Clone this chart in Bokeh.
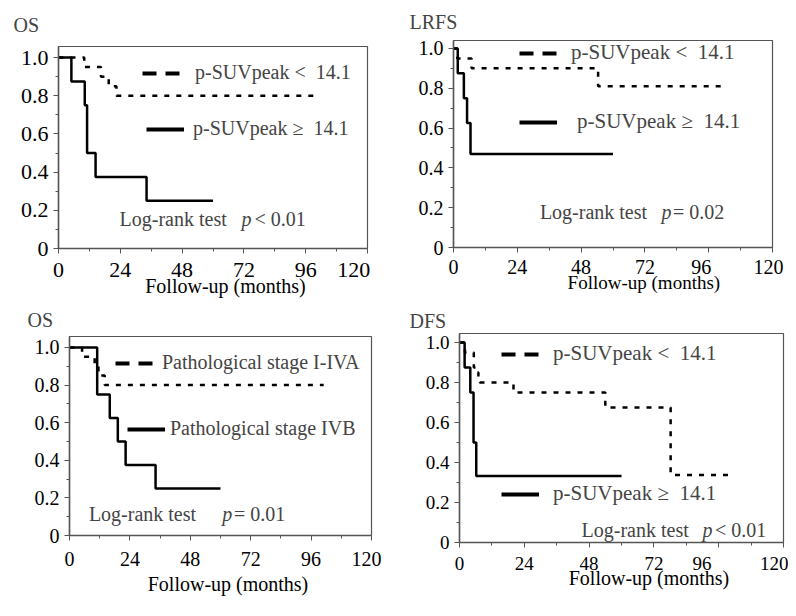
from bokeh.plotting import figure
from bokeh.models import (Range1d, FixedTicker, CustomJSTickFormatter, Label,
                          Legend, LegendItem)
from bokeh.layouts import column, row
from bokeh.embed import file_html
from bokeh.resources import INLINE

FONT = "Liberation Serif"
NB = "\u00a0"
NAN = float("nan")

# ---------------- data ----------------
x_ticks = [0, 24, 48, 72, 96, 120]
x_minor = [12, 36, 60, 84, 108]
y_ticks = [0, 0.2, 0.4, 0.6, 0.8, 1.0]

# Panel A: OS by p-SUVpeak
os_low_t = [0, 10, 16.5, 19.5, 22.5, 101]
os_low_s = [1.0, 0.95, 0.90, 0.85, 0.80, 0.80]
os_high_t = [0, 5, 10.2, 11.1, 14.4, 34.2, 60]
os_high_s = [1.0, 0.875, 0.75, 0.5, 0.375, 0.25, 0.25]

# Panel B: LRFS by p-SUVpeak
lrfs_low_t = [0, 1.4, 6.8, 54.4, 101]
lrfs_low_s = [1.0, 0.95, 0.90, 0.81, 0.81]
lrfs_high_t = [0, 1.6, 3.9, 5.1, 6.4, 60]
lrfs_high_s = [1.0, 0.875, 0.75, 0.625, 0.47, 0.47]

# Panel C: OS by pathological stage
stage_a_t = [0, 5, 10, 11.5, 14, 101]
stage_a_s = [1.0, 0.95, 0.90, 0.85, 0.80, 0.80]
stage_b_t = [0, 11, 16, 19.2, 22.3, 34.2, 60]
stage_b_s = [1.0, 0.75, 0.625, 0.5, 0.375, 0.25, 0.25]

# Panel D: DFS by p-SUVpeak
dfs_low_t = [0, 2, 5.3, 6.5, 7, 7.5, 20, 54, 78.2, 101]
dfs_low_s = [1.0, 0.95, 0.875, 0.85, 0.825, 0.80, 0.75, 0.675, 0.3375, 0.3375]
dfs_high_t = [0, 1.9, 4.0, 5.2, 6.2, 60]
dfs_high_s = [1.0, 0.875, 0.75, 0.5, 0.333, 0.333]

LOW = "p-SUVpeak <" + NB + " 14.1"
HIGH = "p-SUVpeak \u2265" + NB + " 14.1"


def panel(cfg):
    p = figure(width=cfg["w"], height=cfg["h"], output_backend="svg",
               toolbar_location=None, title=cfg["title"],
               x_range=Range1d(0, 120), y_range=Range1d(0, cfg["ytop"]),
               min_border_left=cfg["mb"][0], min_border_right=cfg["mb"][1],
               min_border_top=cfg["mb"][2], min_border_bottom=cfg["mb"][3])
    p.frame_align = False
    p.grid.visible = False
    p.outline_line_color = "#555555"
    p.outline_line_width = 1.2
    p.background_fill_color = "white"
    p.border_fill_color = "white"

    p.title.align = "left"
    p.title.vertical_align = "bottom"
    p.title.offset = cfg["toff"]
    p.title.standoff = cfg["tstand"]
    p.title.text_font = FONT
    p.title.text_font_size = "20px"
    p.title.text_font_style = "normal"

    tf = cfg["tickfs"]
    for ax in (p.xaxis[0], p.yaxis[0]):
        ax.axis_line_color = "#555555"
        ax.axis_line_width = 1.5
        ax.major_tick_line_color = "#555555"
        ax.minor_tick_line_color = "#555555"
        ax.major_tick_out = 5
        ax.major_tick_in = 0
        ax.minor_tick_out = 3
        ax.minor_tick_in = 0
        ax.major_label_text_font = FONT
        ax.major_label_text_font_size = f"{tf}px"
        ax.major_label_text_color = "black"
        ax.major_label_standoff = 5
    p.xaxis.major_label_standoff = cfg["xtstand"]

    p.xaxis.ticker = FixedTicker(ticks=x_ticks, minor_ticks=x_minor)
    p.xaxis.formatter = CustomJSTickFormatter(
        args=dict(p96=cfg["pad96"], p120=cfg["pad120"]),
        code=("var s = String(tick);"
              "if (tick == 96) { s += '\\u00a0'.repeat(p96); }"
              "if (tick == 120) { s += '\\u00a0'.repeat(p120); }"
              "return s;"))
    p.yaxis.ticker = FixedTicker(ticks=y_ticks,
                                 minor_ticks=[0.1, 0.3, 0.5, 0.7, 0.9])
    p.yaxis.formatter = CustomJSTickFormatter(
        code="return tick == 0 ? '0' : tick.toFixed(1);")

    p.xaxis.axis_label = NB * cfg["xlpad"] + "Follow-up (months)"
    p.xaxis.axis_label_text_font = FONT
    p.xaxis.axis_label_text_font_size = cfg["xlfs"]
    p.xaxis.axis_label_text_font_style = "normal"
    p.xaxis.axis_label_text_color = "black"
    p.xaxis.axis_label_standoff = cfg["xlstand"]

    # curves
    p.step(cfg["t1"], cfg["s1"], mode="after", line_color="black",
           line_width=2.5, line_dash="5 7")
    p.step(cfg["t2"], cfg["s2"], mode="after", line_color="black",
           line_width=2.5)

    # legend sample styles (no data of their own)
    r_d = p.line(x=[NAN], y=[NAN], line_color="black", line_width=4,
                 line_dash="14 9")
    r_s = p.line(x=[NAN], y=[NAN], line_color="black", line_width=4)
    lf = cfg["legfs"]
    for (lab, r, loc, gw, st) in ((cfg["lab1"], r_d, cfg["leg1"], 38, cfg["st1"]),
                                  (cfg["lab2"], r_s, cfg["leg2"], 38, cfg["st2"])):
        lg = Legend(items=[LegendItem(label=lab, renderers=[r])],
                    location=loc, border_line_color=None,
                    background_fill_alpha=0, padding=0, margin=0, spacing=0,
                    glyph_width=gw, glyph_height=20, label_height=20,
                    label_standoff=st, label_text_font=FONT,
                    label_text_font_size=lf)
        p.add_layout(lg)

    # log-rank annotation
    lx, px, cx, ly = cfg["lr"]
    p.add_layout(Label(x=lx, y=ly, text="Log-rank test", text_font=FONT,
                       text_font_size="20px", text_baseline="middle"))
    p.add_layout(Label(x=px, y=ly, text="p", text_font=FONT,
                       text_font_size="20px", text_font_style="italic",
                       text_baseline="middle"))
    p.add_layout(Label(x=cx, y=ly, text=cfg["pval"], text_font=FONT,
                       text_font_size="20px", text_baseline="middle"))
    return p


cfgs = [
    dict(w=400, h=300, mb=(58, 33, 46, 52), ytop=1.058, title="OS",
         toff=-45, tstand=21, tickfs=22, xtstand=3, pad96=0,
         pad120=5, xlpad=5, xlfs="20px", xlstand=-10, t1=os_low_t,
         s1=os_low_s, t2=os_high_t, s2=os_high_s, lab1=LOW, lab2=HIGH,
         legfs="20px", leg1=(84, 164), st1=15, leg2=(88, 108), st2=9,
         lr=(23.7, 71.1, 76.1, 0.152), pval="< 0.01"),
    dict(w=388, h=300, mb=(53, 16, 40, 53), ytop=1.040, title="LRFS",
         toff=-44, tstand=16, tickfs=20, xtstand=3, pad96=3,
         pad120=1, xlpad=13, xlfs="19px", xlstand=-9, t1=lrfs_low_t,
         s1=lrfs_low_s, t2=lrfs_high_t, s2=lrfs_high_s, lab1=LOW, lab2=HIGH,
         legfs="21px", leg1=(66, 182), st1=14, leg2=(66, 113), st2=20,
         lr=(32.5, 78.2, 82.6, 0.176), pval="= 0.02"),
    dict(w=400, h=308, mb=(69, 29, 35, 73), ytop=1.058, title="OS",
         toff=-42, tstand=12, tickfs=20, xtstand=7, pad96=0,
         pad120=2, xlpad=3, xlfs="20px", xlstand=0, t1=stage_a_t,
         s1=stage_a_s, t2=stage_b_t, s2=stage_b_s,
         lab1="Pathological stage I-IVA", lab2="Pathological stage IVB",
         legfs="20px", leg1=(46, 161), st1=9, leg2=(58, 95), st2=5,
         lr=(7.7, 60.7, 65.4, 0.116), pval="= 0.01"),
    dict(w=388, h=308, mb=(59, 5, 33, 66), ytop=1.045, title="DFS",
         toff=-50, tstand=4, tickfs=19, xtstand=5, pad96=7,
         pad120=0, xlpad=11, xlfs="20px", xlstand=-10, t1=dfs_low_t,
         s1=dfs_low_s, t2=dfs_high_t, s2=dfs_high_s, lab1=LOW, lab2=HIGH,
         legfs="21px", leg1=(42, 176), st1=14, leg2=(42, 36), st2=14,
         lr=(45.2, 90.0, 94.6, 0.064), pval="< 0.01"),
]

figs = [panel(c) for c in cfgs]
layout = column(row(figs[0], figs[1], spacing=0),
                row(figs[2], figs[3], spacing=0), spacing=0)

open("out.html", "w").write(file_html(layout, INLINE))
